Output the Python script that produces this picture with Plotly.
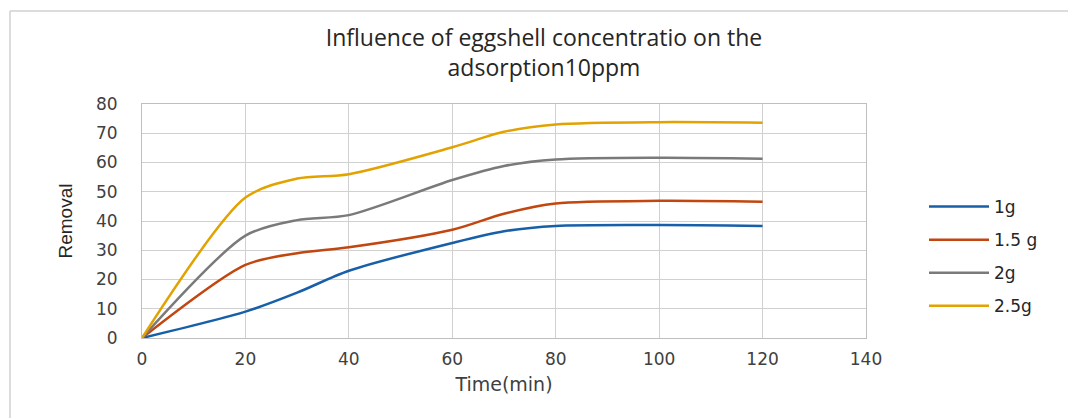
import plotly.graph_objects as go

time_min = [0, 20, 30, 40, 60, 70, 80, 100, 120]
series_names = ["1g", "1.5 g", "2g", "2.5g"]
removal_1g = [0, 9, 15.5, 23, 32.5, 36.5, 38.3, 38.6, 38.3]
removal_1_5g = [0, 25, 29, 31, 37, 42.5, 46, 46.9, 46.6]
removal_2g = [0, 35, 40.3, 42, 54, 58.8, 61, 61.6, 61.3]
removal_2_5g = [0, 48, 54.5, 56, 65.2, 70.5, 73, 73.8, 73.6]
colors = ["#175FA9", "#C1460F", "#7A7A7A", "#E2A200"]

W, H = 1068, 418
L, R, T, B = 142, 202, 104, 80
pw, ph = W - L - R, H - T - B

fig = go.Figure()
for i, (name, ys) in enumerate(zip(series_names, [removal_1g, removal_1_5g, removal_2g, removal_2_5g])):
    fig.add_trace(go.Scatter(
        x=time_min, y=ys, name=name, mode="lines",
        line=dict(color=colors[i], width=2.5, shape="spline", smoothing=0.8),
        legendgroup=name,
    ))

def px_x(p):
    return (p - L) / pw

def px_y(p):
    return (H - B - p) / ph

fig.update_layout(
    width=W, height=H,
    margin=dict(l=L, r=R, t=T, b=B),
    paper_bgcolor="white", plot_bgcolor="white",
    title=dict(
        text="Influence of eggshell concentratio on the<br>adsorption10ppm",
        x=px_x(544), xanchor="center", xref="paper",
        y=1 - 46 / H, yanchor="top",
        font=dict(family="Open Sans", size=23, color="#262626"),
    ),
    xaxis=dict(
        range=[0, 140], dtick=20, tick0=0,
        showgrid=True, gridcolor="#D0D0D0", gridwidth=1,
        showline=True, linecolor="#BFBFBF", linewidth=1, mirror=True,
        zeroline=False, ticks="", ticklabelstandoff=6,
        tickfont=dict(family="DejaVu Sans", size=17, color="#404040"),
        title=dict(text="Time(min)", font=dict(family="DejaVu Sans", size=19, color="#404040"), standoff=9),
    ),
    yaxis=dict(
        range=[0, 80], dtick=10, tick0=0,
        showgrid=True, gridcolor="#D0D0D0", gridwidth=1,
        showline=True, linecolor="#BFBFBF", linewidth=1, mirror=True,
        zeroline=False, ticks="", ticklabelstandoff=20,
        tickfont=dict(family="DejaVu Sans", size=17, color="#404040"),
        title=dict(text="Removal", font=dict(family="Liberation Sans Narrow, Liberation Sans", size=19, color="#262626"), standoff=18),
    ),
    legend=dict(
        x=px_x(924), y=px_y(189), xanchor="left", yanchor="top",
        font=dict(family="DejaVu Sans", size=17, color="#262626"),
        tracegroupgap=8, bgcolor="rgba(0,0,0,0)", itemwidth=60,
    ),
    showlegend=True,
)

fig.add_shape(type="line", xref="paper", yref="paper",
              x0=px_x(10), x1=px_x(10), y0=px_y(11), y1=px_y(420),
              line=dict(color="#D0D0D0", width=1.5))
fig.add_shape(type="line", xref="paper", yref="paper",
              x0=px_x(10), x1=px_x(1070), y0=px_y(11), y1=px_y(11),
              line=dict(color="#D0D0D0", width=1.5))

fig.write_html("out.html", config={"displayModeBar": False},
               post_script="document.body.style.margin='0px';")
